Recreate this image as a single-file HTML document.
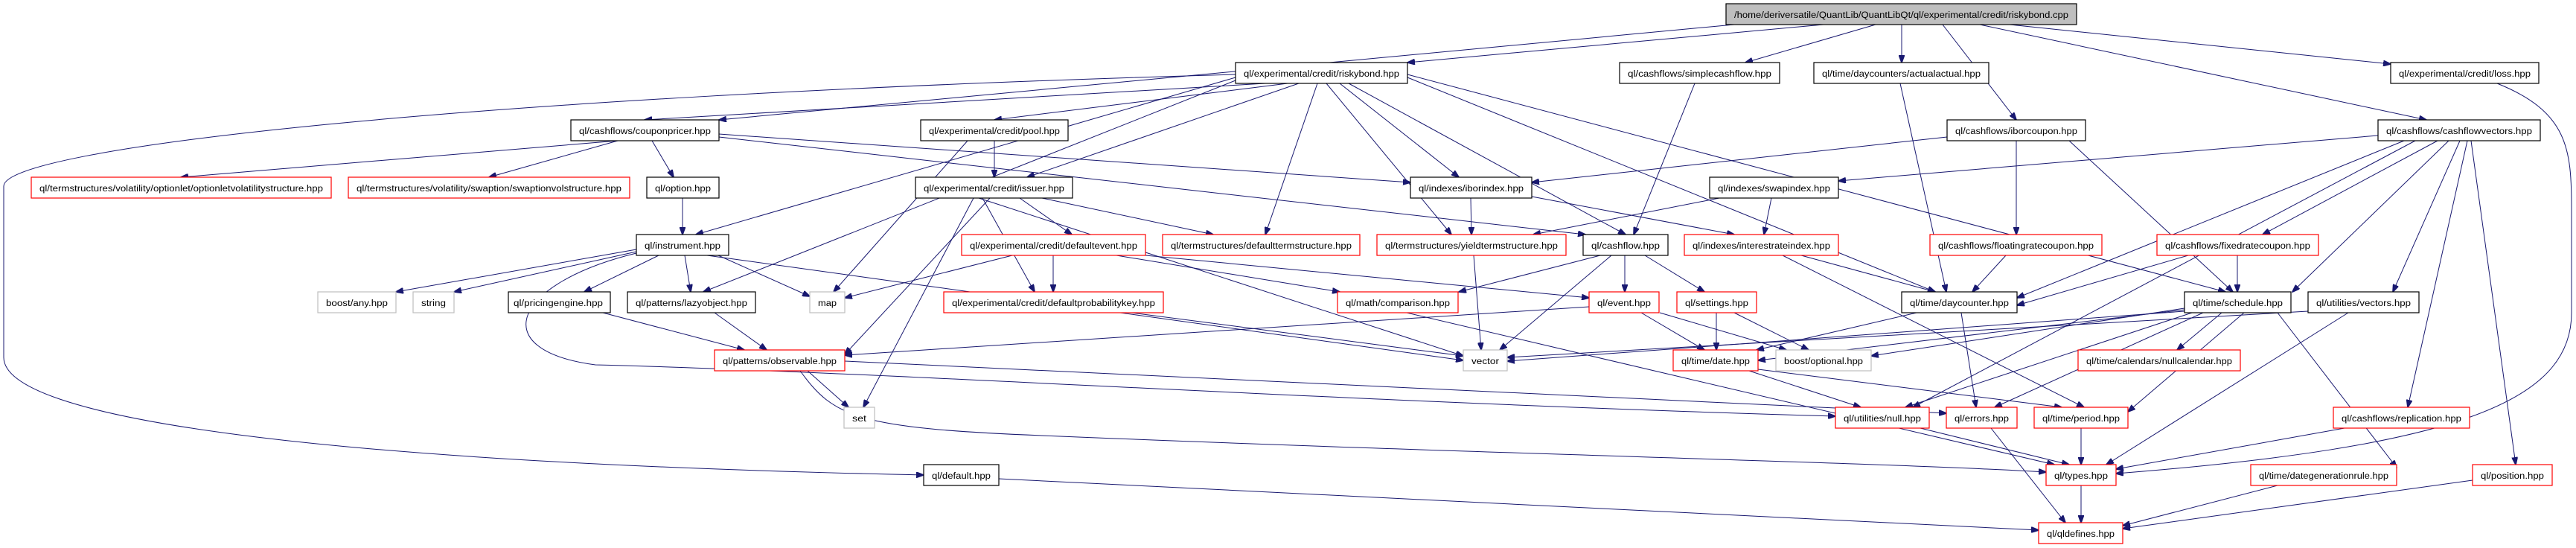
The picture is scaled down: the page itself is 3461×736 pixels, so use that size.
<!DOCTYPE html>
<html><head><meta charset="utf-8"><style>
html,body{margin:0;padding:0;background:#fff;}
svg{display:block;}
text{font-family:"Liberation Sans",sans-serif;font-size:11.5px;fill:#000;}
.b{fill:#fff;stroke:#000;stroke-width:1.2}
.r{fill:#fff;stroke:#ff0000;stroke-width:1.2}
.g{fill:#fff;stroke:#bfbfbf;stroke-width:1.2}
.c{fill:#bfbfbf;stroke:#000;stroke-width:1.2}
.e line,.e path{stroke:#191970;stroke-width:1;fill:none;marker-end:url(#a)}
</style></head><body>
<svg width="3461" height="736" viewBox="0 0 3461 736" xmlns="http://www.w3.org/2000/svg">
<defs><marker id="a" markerWidth="11" markerHeight="8" refX="10" refY="4" orient="auto" markerUnits="userSpaceOnUse"><path d="M0,0 L11,4 L0,8 z" fill="#191970" stroke="#191970"/></marker></defs>
<g class="e">
<line x1="2450" y1="33" x2="1891" y2="84"/>
<line x1="2330" y1="33" x2="966" y2="161"/>
<line x1="2520" y1="33" x2="2345" y2="84"/>
<line x1="2555" y1="33" x2="2555" y2="84"/>
<line x1="2610" y1="33" x2="2709" y2="161"/>
<line x1="2700" y1="33" x2="3212" y2="86"/>
<line x1="2660" y1="33" x2="3260" y2="161"/>
<line x1="1700" y1="112" x2="866" y2="161"/>
<line x1="1730" y1="112" x2="1336" y2="161"/>
<line x1="1660" y1="104" x2="935" y2="315"/>
<line x1="1660" y1="108" x2="945" y2="392"/>
<line x1="1745" y1="112" x2="1380" y2="238"/>
<line x1="1770" y1="112" x2="1700" y2="315"/>
<line x1="1782" y1="112" x2="1950" y2="315"/>
<line x1="1800" y1="112" x2="1960" y2="238"/>
<line x1="1812" y1="112" x2="2184" y2="315"/>
<line x1="1891" y1="104" x2="2600" y2="392"/>
<line x1="1891" y1="100" x2="2990" y2="392"/>
<path d="M1660,100 C600,130 5,200 5,250 L5,480 C5,560 400,620 1241,638"/>
<line x1="830" y1="189" x2="243" y2="238"/>
<line x1="830" y1="189" x2="657" y2="238"/>
<line x1="876" y1="189" x2="905" y2="238"/>
<line x1="966" y1="180" x2="1895" y2="245"/>
<line x1="966" y1="184" x2="2130" y2="315"/>
<line x1="917" y1="266" x2="917" y2="315"/>
<line x1="855" y1="335" x2="532" y2="392"/>
<line x1="855" y1="338" x2="610" y2="392"/>
<line x1="885" y1="343" x2="785" y2="392"/>
<line x1="920" y1="343" x2="928" y2="392"/>
<line x1="965" y1="343" x2="1088" y2="398"/>
<line x1="950" y1="343" x2="1966" y2="484"/>
<path d="M855,340 C690,380 650,470 800,490 C1200,500 1800,540 2466,559"/>
<line x1="810" y1="420" x2="1000" y2="470"/>
<line x1="960" y1="420" x2="1030" y2="470"/>
<line x1="1085" y1="498" x2="1140" y2="547"/>
<line x1="1135" y1="485" x2="2615" y2="555"/>
<path d="M1075,498 C1120,560 1150,575 1400,585 C2000,610 2500,620 2749,634"/>
<line x1="1300" y1="189" x2="1120" y2="392"/>
<line x1="1336" y1="189" x2="1336" y2="238"/>
<line x1="1370" y1="266" x2="1440" y2="315"/>
<line x1="1400" y1="266" x2="1630" y2="315"/>
<line x1="1320" y1="266" x2="1390" y2="392"/>
<line x1="1308" y1="266" x2="1160" y2="547"/>
<line x1="1315" y1="266" x2="1966" y2="478"/>
<line x1="1330" y1="266" x2="1135" y2="476"/>
<line x1="1415" y1="343" x2="1415" y2="392"/>
<line x1="1360" y1="343" x2="1135" y2="400"/>
<line x1="1500" y1="343" x2="1800" y2="392"/>
<line x1="1539" y1="343" x2="2135" y2="400"/>
<line x1="1520" y1="420" x2="1966" y2="478"/>
<line x1="1890" y1="420" x2="2760" y2="624"/>
<line x1="1976" y1="266" x2="1977" y2="315"/>
<line x1="2058" y1="264" x2="2330" y2="315"/>
<line x1="1980" y1="343" x2="1990" y2="470"/>
<line x1="2310" y1="266" x2="2060" y2="315"/>
<line x1="2380" y1="266" x2="2370" y2="315"/>
<line x1="2277" y1="112" x2="2195" y2="315"/>
<line x1="2183" y1="343" x2="2183" y2="392"/>
<line x1="2210" y1="343" x2="2290" y2="392"/>
<line x1="2150" y1="343" x2="1960" y2="392"/>
<line x1="2165" y1="343" x2="2015" y2="470"/>
<line x1="2135" y1="412" x2="1135" y2="477"/>
<line x1="2205" y1="420" x2="2290" y2="470"/>
<line x1="2230" y1="420" x2="2400" y2="470"/>
<line x1="2306" y1="420" x2="2306" y2="470"/>
<line x1="2330" y1="420" x2="2430" y2="470"/>
<line x1="2420" y1="343" x2="2600" y2="392"/>
<line x1="2395" y1="343" x2="2800" y2="547"/>
<line x1="2553" y1="112" x2="2615" y2="392"/>
<line x1="2616" y1="184" x2="2058" y2="245"/>
<line x1="2709" y1="189" x2="2709" y2="315"/>
<line x1="2780" y1="189" x2="3000" y2="392"/>
<line x1="2695" y1="343" x2="2650" y2="392"/>
<line x1="2575" y1="420" x2="2360" y2="470"/>
<line x1="2635" y1="420" x2="2655" y2="547"/>
<line x1="2350" y1="498" x2="2500" y2="547"/>
<line x1="2362" y1="496" x2="2770" y2="547"/>
<line x1="2580" y1="575" x2="2780" y2="624"/>
<line x1="2675" y1="575" x2="2775" y2="702"/>
<line x1="2796" y1="575" x2="2796" y2="624"/>
<line x1="2796" y1="652" x2="2796" y2="702"/>
<line x1="1342" y1="643" x2="2739" y2="712"/>
<path d="M3355,112 C3450,150 3455,200 3455,280 L3455,420 C3455,540 3300,600 2843,636"/>
<line x1="3195" y1="182" x2="2470" y2="243"/>
<line x1="3275" y1="189" x2="3040" y2="315"/>
<line x1="3290" y1="189" x2="3080" y2="392"/>
<line x1="3305" y1="189" x2="3215" y2="392"/>
<line x1="3315" y1="189" x2="3235" y2="547"/>
<line x1="3320" y1="189" x2="3380" y2="624"/>
<line x1="3245" y1="189" x2="2570" y2="547"/>
<line x1="3230" y1="189" x2="2710" y2="400"/>
<line x1="3006" y1="343" x2="3006" y2="392"/>
<line x1="2940" y1="343" x2="2710" y2="410"/>
<line x1="2985" y1="420" x2="2925" y2="470"/>
<line x1="3015" y1="420" x2="2859" y2="553"/>
<line x1="3060" y1="420" x2="3220" y2="628"/>
<line x1="2945" y1="420" x2="2560" y2="547"/>
<line x1="2960" y1="420" x2="2680" y2="547"/>
<line x1="2935" y1="416" x2="2362" y2="484"/>
<line x1="2935" y1="418" x2="2025" y2="485"/>
<line x1="2935" y1="414" x2="2514" y2="478"/>
<line x1="3155" y1="420" x2="2830" y2="624"/>
<line x1="3101" y1="418" x2="2025" y2="480"/>
<line x1="3150" y1="575" x2="2843" y2="630"/>
<line x1="3060" y1="652" x2="2852" y2="706"/>
<line x1="3322" y1="645" x2="2852" y2="710"/>
</g>
<g>
<rect class="c" x="2319" y="5" width="471" height="28"/><text x="2330" y="24" textLength="449" lengthAdjust="spacingAndGlyphs">/home/deriversatile/QuantLib/QuantLibQt/ql/experimental/credit/riskybond.cpp</text>
<rect class="b" x="1660" y="84" width="231" height="28"/><text x="1671" y="103" textLength="209" lengthAdjust="spacingAndGlyphs">ql/experimental/credit/riskybond.hpp</text>
<rect class="b" x="2176" y="84" width="215" height="28"/><text x="2187" y="103" textLength="193" lengthAdjust="spacingAndGlyphs">ql/cashflows/simplecashflow.hpp</text>
<rect class="b" x="2437" y="84" width="235" height="28"/><text x="2448" y="103" textLength="213" lengthAdjust="spacingAndGlyphs">ql/time/daycounters/actualactual.hpp</text>
<rect class="b" x="3212" y="84" width="199" height="28"/><text x="3223" y="103" textLength="177" lengthAdjust="spacingAndGlyphs">ql/experimental/credit/loss.hpp</text>
<rect class="b" x="767" y="161" width="199" height="28"/><text x="778" y="180" textLength="177" lengthAdjust="spacingAndGlyphs">ql/cashflows/couponpricer.hpp</text>
<rect class="b" x="1237" y="161" width="198" height="28"/><text x="1248" y="180" textLength="176" lengthAdjust="spacingAndGlyphs">ql/experimental/credit/pool.hpp</text>
<rect class="b" x="2616" y="161" width="186" height="28"/><text x="2627" y="180" textLength="164" lengthAdjust="spacingAndGlyphs">ql/cashflows/iborcoupon.hpp</text>
<rect class="b" x="3195" y="161" width="218" height="28"/><text x="3206" y="180" textLength="196" lengthAdjust="spacingAndGlyphs">ql/cashflows/cashflowvectors.hpp</text>
<rect class="r" x="42" y="238" width="403" height="28"/><text x="53" y="257" textLength="381" lengthAdjust="spacingAndGlyphs">ql/termstructures/volatility/optionlet/optionletvolatilitystructure.hpp</text>
<rect class="r" x="468" y="238" width="378" height="28"/><text x="479" y="257" textLength="356" lengthAdjust="spacingAndGlyphs">ql/termstructures/volatility/swaption/swaptionvolstructure.hpp</text>
<rect class="b" x="869" y="238" width="97" height="28"/><text x="880" y="257" textLength="75" lengthAdjust="spacingAndGlyphs">ql/option.hpp</text>
<rect class="b" x="1230" y="238" width="211" height="28"/><text x="1241" y="257" textLength="189" lengthAdjust="spacingAndGlyphs">ql/experimental/credit/issuer.hpp</text>
<rect class="b" x="1895" y="238" width="163" height="28"/><text x="1906" y="257" textLength="141" lengthAdjust="spacingAndGlyphs">ql/indexes/iborindex.hpp</text>
<rect class="b" x="2297" y="238" width="173" height="28"/><text x="2308" y="257" textLength="151" lengthAdjust="spacingAndGlyphs">ql/indexes/swapindex.hpp</text>
<rect class="b" x="855" y="315" width="124" height="28"/><text x="866" y="334" textLength="102" lengthAdjust="spacingAndGlyphs">ql/instrument.hpp</text>
<rect class="r" x="1292" y="315" width="247" height="28"/><text x="1303" y="334" textLength="225" lengthAdjust="spacingAndGlyphs">ql/experimental/credit/defaultevent.hpp</text>
<rect class="r" x="1562" y="315" width="265" height="28"/><text x="1573" y="334" textLength="243" lengthAdjust="spacingAndGlyphs">ql/termstructures/defaulttermstructure.hpp</text>
<rect class="r" x="1850" y="315" width="254" height="28"/><text x="1861" y="334" textLength="232" lengthAdjust="spacingAndGlyphs">ql/termstructures/yieldtermstructure.hpp</text>
<rect class="b" x="2127" y="315" width="114" height="28"/><text x="2138" y="334" textLength="92" lengthAdjust="spacingAndGlyphs">ql/cashflow.hpp</text>
<rect class="r" x="2263" y="315" width="207" height="28"/><text x="2274" y="334" textLength="185" lengthAdjust="spacingAndGlyphs">ql/indexes/interestrateindex.hpp</text>
<rect class="r" x="2593" y="315" width="231" height="28"/><text x="2604" y="334" textLength="209" lengthAdjust="spacingAndGlyphs">ql/cashflows/floatingratecoupon.hpp</text>
<rect class="r" x="2898" y="315" width="217" height="28"/><text x="2909" y="334" textLength="195" lengthAdjust="spacingAndGlyphs">ql/cashflows/fixedratecoupon.hpp</text>
<rect class="g" x="427" y="392" width="105" height="28"/><text x="438" y="411" textLength="83" lengthAdjust="spacingAndGlyphs">boost/any.hpp</text>
<rect class="g" x="555" y="392" width="55" height="28"/><text x="566" y="411" textLength="33" lengthAdjust="spacingAndGlyphs">string</text>
<rect class="b" x="683" y="392" width="137" height="28"/><text x="690" y="411" textLength="120" lengthAdjust="spacingAndGlyphs">ql/pricingengine.hpp</text>
<rect class="b" x="843" y="392" width="172" height="28"/><text x="854" y="411" textLength="150" lengthAdjust="spacingAndGlyphs">ql/patterns/lazyobject.hpp</text>
<rect class="g" x="1088" y="392" width="47" height="28"/><text x="1099" y="411" textLength="25" lengthAdjust="spacingAndGlyphs">map</text>
<rect class="r" x="1268" y="392" width="295" height="28"/><text x="1279" y="411" textLength="273" lengthAdjust="spacingAndGlyphs">ql/experimental/credit/defaultprobabilitykey.hpp</text>
<rect class="r" x="1797" y="392" width="162" height="28"/><text x="1808" y="411" textLength="140" lengthAdjust="spacingAndGlyphs">ql/math/comparison.hpp</text>
<rect class="r" x="2135" y="392" width="94" height="28"/><text x="2146" y="411" textLength="72" lengthAdjust="spacingAndGlyphs">ql/event.hpp</text>
<rect class="r" x="2253" y="392" width="107" height="28"/><text x="2264" y="411" textLength="85" lengthAdjust="spacingAndGlyphs">ql/settings.hpp</text>
<rect class="b" x="2555" y="392" width="155" height="28"/><text x="2566" y="411" textLength="133" lengthAdjust="spacingAndGlyphs">ql/time/daycounter.hpp</text>
<rect class="b" x="2935" y="392" width="143" height="28"/><text x="2946" y="411" textLength="121" lengthAdjust="spacingAndGlyphs">ql/time/schedule.hpp</text>
<rect class="b" x="3101" y="392" width="149" height="28"/><text x="3112" y="411" textLength="127" lengthAdjust="spacingAndGlyphs">ql/utilities/vectors.hpp</text>
<rect class="r" x="960" y="470" width="175" height="28"/><text x="971" y="489" textLength="153" lengthAdjust="spacingAndGlyphs">ql/patterns/observable.hpp</text>
<rect class="g" x="1966" y="470" width="59" height="28"/><text x="1977" y="489" textLength="37" lengthAdjust="spacingAndGlyphs">vector</text>
<rect class="r" x="2248" y="470" width="114" height="28"/><text x="2259" y="489" textLength="92" lengthAdjust="spacingAndGlyphs">ql/time/date.hpp</text>
<rect class="g" x="2386" y="470" width="128" height="28"/><text x="2397" y="489" textLength="106" lengthAdjust="spacingAndGlyphs">boost/optional.hpp</text>
<rect class="r" x="2792" y="470" width="218" height="28"/><text x="2803" y="489" textLength="196" lengthAdjust="spacingAndGlyphs">ql/time/calendars/nullcalendar.hpp</text>
<rect class="g" x="1134" y="547" width="41" height="28"/><text x="1145" y="566" textLength="19" lengthAdjust="spacingAndGlyphs">set</text>
<rect class="r" x="2466" y="547" width="126" height="28"/><text x="2477" y="566" textLength="104" lengthAdjust="spacingAndGlyphs">ql/utilities/null.hpp</text>
<rect class="r" x="2615" y="547" width="95" height="28"/><text x="2626" y="566" textLength="73" lengthAdjust="spacingAndGlyphs">ql/errors.hpp</text>
<rect class="r" x="2733" y="547" width="126" height="28"/><text x="2744" y="566" textLength="104" lengthAdjust="spacingAndGlyphs">ql/time/period.hpp</text>
<rect class="r" x="3135" y="547" width="183" height="28"/><text x="3146" y="566" textLength="161" lengthAdjust="spacingAndGlyphs">ql/cashflows/replication.hpp</text>
<rect class="b" x="1241" y="624" width="101" height="28"/><text x="1252" y="643" textLength="79" lengthAdjust="spacingAndGlyphs">ql/default.hpp</text>
<rect class="r" x="2749" y="624" width="94" height="28"/><text x="2760" y="643" textLength="72" lengthAdjust="spacingAndGlyphs">ql/types.hpp</text>
<rect class="r" x="3024" y="624" width="196" height="28"/><text x="3035" y="643" textLength="174" lengthAdjust="spacingAndGlyphs">ql/time/dategenerationrule.hpp</text>
<rect class="r" x="3322" y="624" width="107" height="28"/><text x="3333" y="643" textLength="85" lengthAdjust="spacingAndGlyphs">ql/position.hpp</text>
<rect class="r" x="2739" y="702" width="113" height="28"/><text x="2750" y="721" textLength="91" lengthAdjust="spacingAndGlyphs">ql/qldefines.hpp</text>
</g>
</svg>
</body></html>
